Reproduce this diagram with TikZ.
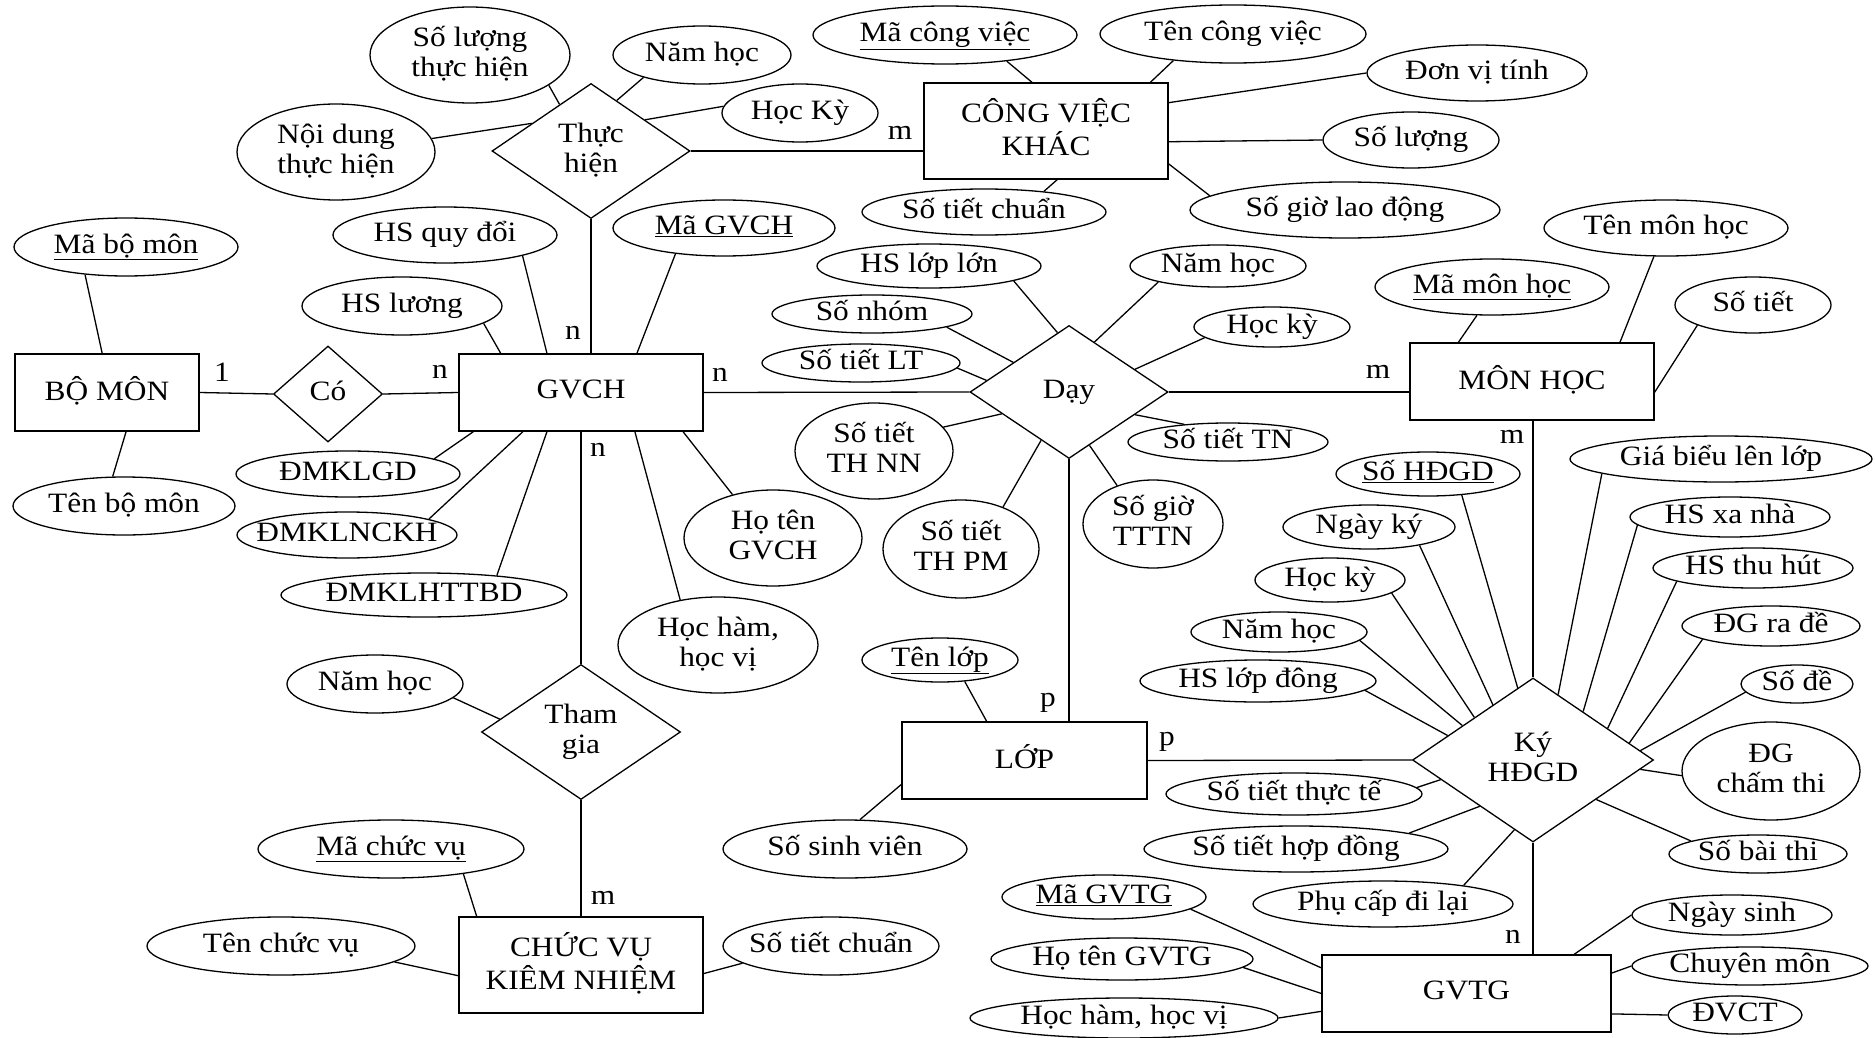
\documentclass[tikz,border=0pt]{standalone}
\usepackage{fontspec}
\setmainfont[FakeStretch=1.12]{Liberation Serif}
\usetikzlibrary{shapes.geometric}
% centred label whose size does not affect the node outline
\newcommand\nodetext[1]{\makebox[0pt]{\raisebox{-4pt}{\begin{tabular}{@{}c@{}}#1\end{tabular}}}}

\begin{document}
\begin{tikzpicture}[x=1pt,y=-1pt,
  font=\fontsize{28}{30}\selectfont,
  base/.style={draw, line width=1.3pt, inner sep=0pt, text height=.5em, text depth=0pt},
  attr/.style={base, ellipse},
  ent/.style={base, rectangle},
  rel/.style={base, diamond},
  link/.style={line width=1.3pt},
  card/.style={inner sep=0pt}]

\fill[white] (0,0) rectangle (1875,1038);
\useasboundingbox (0,0) rectangle (1875,1038);

% ---------- entities ----------
\node[ent, minimum width=184, minimum height=77] (bomon) at (107,392.5) {\nodetext{BỘ MÔN}};
\node[ent, minimum width=244, minimum height=77] (gvch) at (581,392.5) {\nodetext{GVCH}};
\node[ent, minimum width=244, minimum height=96] (cvk) at (1046,131) {\nodetext{CÔNG VIỆC\\KHÁC}};
\node[ent, minimum width=244, minimum height=77] (monhoc) at (1532,381.5) {\nodetext{MÔN HỌC}};
\node[ent, minimum width=245, minimum height=77] (lop) at (1024.5,760.5) {\nodetext{LỚP}};
\node[ent, minimum width=244, minimum height=96] (cvkn) at (581,965) {\nodetext{CHỨC VỤ\\KIÊM NHIỆM}};
\node[ent, minimum width=289, minimum height=77] (gvtg) at (1466.5,993.5) {\nodetext{GVTG}};

% ---------- relationships ----------
\node[rel, minimum width=109, minimum height=96] (co) at (328,394) {\nodetext{Có}};
\node[rel, minimum width=198, minimum height=135] (thuchien) at (591,151) {\nodetext{Thực\\hiện}};
\node[rel, minimum width=198, minimum height=133] (day) at (1069,392) {\nodetext{Dạy}};
\node[rel, minimum width=199, minimum height=135] (thamgia) at (581,732) {\nodetext{Tham\\gia}};
\node[rel, minimum width=241, minimum height=164] (ky) at (1533,760) {\nodetext{Ký\\HĐGD}};

% ---------- attributes ----------
\node[attr, minimum width=200, minimum height=96] (slth) at (470,55) {\nodetext{Số lượng\\thực hiện}};
\node[attr, minimum width=198, minimum height=96] (ndth) at (336,152) {\nodetext{Nội dung\\thực hiện}};
\node[attr, minimum width=178, minimum height=58] (nh1) at (702,55) {\nodetext{Năm học}};
\node[attr, minimum width=156, minimum height=58] (hk1) at (800,113) {\nodetext{Học Kỳ}};
\node[attr, minimum width=224, minimum height=58] (mabm) at (126,247) {\nodetext{\underline{Mã bộ môn}}};
\node[attr, minimum width=222, minimum height=58] (tenbm) at (124,506) {\nodetext{Tên bộ môn}};
\node[attr, minimum width=224, minimum height=56] (hsqd) at (445,235) {\nodetext{HS quy đổi}};
\node[attr, minimum width=200, minimum height=58] (hsl) at (402,306) {\nodetext{HS lương}};
\node[attr, minimum width=222, minimum height=56] (magvch) at (724,228) {\nodetext{\underline{Mã GVCH}}};
\node[attr, minimum width=224, minimum height=46] (dmklgd) at (348,474) {\nodetext{ĐMKLGD}};
\node[attr, minimum width=220, minimum height=46] (dmklnckh) at (347,535) {\nodetext{ĐMKLNCKH}};
\node[attr, minimum width=286, minimum height=44] (dmklhttbd) at (424,595) {\nodetext{ĐMKLHTTBD}};
\node[attr, minimum width=178, minimum height=96] (hoten) at (773,538) {\nodetext{Họ tên\\GVCH}};
\node[attr, minimum width=200, minimum height=96] (hochamvi) at (718,645) {\nodetext{Học hàm,\\học vị}};
\node[attr, minimum width=176, minimum height=58] (nh3) at (375,684) {\nodetext{Năm học}};
\node[attr, minimum width=266, minimum height=58] (machucvu) at (391,849) {\nodetext{\underline{Mã chức vụ}}};
\node[attr, minimum width=268, minimum height=58] (tenchucvu) at (281,946) {\nodetext{Tên chức vụ}};
\node[attr, minimum width=216, minimum height=58] (stc2) at (831,946) {\nodetext{Số tiết chuẩn}};

\node[attr, minimum width=264, minimum height=58] (macv) at (945,35) {\nodetext{\underline{Mã công việc}}};
\node[attr, minimum width=266, minimum height=58] (tencv) at (1233,34) {\nodetext{Tên công việc}};
\node[attr, minimum width=220, minimum height=56] (dvt) at (1477,73) {\nodetext{Đơn vị tính}};
\node[attr, minimum width=176, minimum height=56] (sl) at (1411,140) {\nodetext{Số lượng}};
\node[attr, minimum width=310, minimum height=56] (sgld) at (1345,210) {\nodetext{Số giờ lao động}};
\node[attr, minimum width=244, minimum height=46] (stc1) at (984,212) {\nodetext{Số tiết chuẩn}};

\node[attr, minimum width=224, minimum height=44] (hsll) at (929,266) {\nodetext{HS lớp lớn}};
\node[attr, minimum width=176, minimum height=42] (nh2) at (1218,266) {\nodetext{Năm học}};
\node[attr, minimum width=156, minimum height=40] (hk2) at (1272,327) {\nodetext{Học kỳ}};
\node[attr, minimum width=200, minimum height=38] (snhom) at (872,314) {\nodetext{Số nhóm}};
\node[attr, minimum width=198, minimum height=38] (stlt) at (861,363) {\nodetext{Số tiết LT}};
\node[attr, minimum width=158, minimum height=96] (stthnn) at (874,451) {\nodetext{Số tiết\\TH NN}};
\node[attr, minimum width=156, minimum height=98] (stthpm) at (961,549) {\nodetext{Số tiết\\TH PM}};
\node[attr, minimum width=140, minimum height=88] (sgtttn) at (1153,524) {\nodetext{Số giờ\\TTTN}};
\node[attr, minimum width=200, minimum height=38] (sttn) at (1228,442) {\nodetext{Số tiết TN}};

\node[attr, minimum width=234, minimum height=56] (mamh) at (1492,287) {\nodetext{\underline{Mã môn học}}};
\node[attr, minimum width=244, minimum height=56] (tenmh) at (1666,228) {\nodetext{Tên môn học}};
\node[attr, minimum width=156, minimum height=56] (sotiet) at (1753,305) {\nodetext{Số tiết}};

\node[attr, minimum width=184, minimum height=44] (sohdgd) at (1428,474) {\nodetext{\underline{Số HĐGD}}};
\node[attr, minimum width=172, minimum height=44] (ngayky) at (1369,527) {\nodetext{Ngày ký}};
\node[attr, minimum width=150, minimum height=44] (hk3) at (1330,580) {\nodetext{Học kỳ}};
\node[attr, minimum width=176, minimum height=40] (nh4) at (1279,632) {\nodetext{Năm học}};
\node[attr, minimum width=236, minimum height=42] (hslopdong) at (1258,681) {\nodetext{HS lớp đông}};
\node[attr, minimum width=302, minimum height=46] (gbll) at (1721,459) {\nodetext{Giá biểu lên lớp}};
\node[attr, minimum width=200, minimum height=40] (hsxanha) at (1730,517) {\nodetext{HS xa nhà}};
\node[attr, minimum width=200, minimum height=40] (hsthuhut) at (1753,568) {\nodetext{HS thu hút}};
\node[attr, minimum width=178, minimum height=40] (dgrade) at (1771,626) {\nodetext{ĐG ra đề}};
\node[attr, minimum width=112, minimum height=38] (sode) at (1797,684) {\nodetext{Số đề}};
\node[attr, minimum width=178, minimum height=98] (dgchamthi) at (1771,771) {\nodetext{ĐG\\chấm thi}};
\node[attr, minimum width=178, minimum height=38] (sobaithi) at (1758,854) {\nodetext{Số bài thi}};
\node[attr, minimum width=256, minimum height=42] (sttt) at (1294,794) {\nodetext{Số tiết thực tế}};
\node[attr, minimum width=304, minimum height=46] (sthd) at (1296,849) {\nodetext{Số tiết hợp đồng}};
\node[attr, minimum width=260, minimum height=46] (pcdl) at (1383,904) {\nodetext{Phụ cấp đi lại}};

\node[attr, minimum width=156, minimum height=44] (tenlop) at (940,660) {\nodetext{\underline{Tên lớp}}};
\node[attr, minimum width=244, minimum height=58] (sosv) at (845,849) {\nodetext{Số sinh viên}};

\node[attr, minimum width=204, minimum height=44] (magvtg) at (1104,897) {\nodetext{\underline{Mã GVTG}}};
\node[attr, minimum width=262, minimum height=42] (hotengvtg) at (1122,959) {\nodetext{Họ tên GVTG}};
\node[attr, minimum width=308, minimum height=40] (hochamvi2) at (1124,1018) {\nodetext{Học hàm, học vị}};
\node[attr, minimum width=200, minimum height=40] (ngaysinh) at (1732,915) {\nodetext{Ngày sinh}};
\node[attr, minimum width=236, minimum height=38] (chuyenmon) at (1750,966) {\nodetext{Chuyên môn}};
\node[attr, minimum width=134, minimum height=38] (dvct) at (1735,1015) {\nodetext{ĐVCT}};

% ---------- relationship links ----------
\draw[link] (bomon.east) -- (co.west);
\draw[link] (co.east) -- (gvch.west);
\draw[link] (thuchien.south) -- (thuchien.south |- gvch.north);
\draw[link] (thuchien.east) -- (thuchien.east -| cvk.west);
\draw[link] (gvch.east) -- (day.west);
\draw[link] (day.east) -- (day.east -| monhoc.west);
\draw[link] (day.south) -- (day.south |- lop.north);
\draw[link] (gvch.south) -- (thamgia.north);
\draw[link] (thamgia.south) -- (cvkn.north);
\draw[link] (ky.north |- monhoc.south) -- (ky.north);
\draw[link] (lop.east) -- (ky.west);
\draw[link] (ky.south) -- (ky.south |- gvtg.north);

% ---------- cardinalities ----------
\node[card] (c1) at (222,372) {1};
\node[card] (c2) at (440,372) {n};
\node[card] (c3) at (573,333) {n};
\node[card] (c4) at (900,133) {m};
\node[card] (c5) at (720,375) {n};
\node[card] (c6) at (598,450) {n};
\node[card] (c7) at (1378,372) {m};
\node[card] (c8) at (1512,437) {m};
\node[card] (c9) at (1048,703) {p};
\node[card] (c10) at (1167,742) {p};
\node[card] (c11) at (1513,937) {n};
\node[card] (c12) at (603,898) {m};

% ---------- attribute links ----------
\draw[link] (slth.-21) -- (thuchien.124);
\draw[link] (ndth.8) -- (thuchien.155);
\draw[link] (nh1.201) -- (thuchien.63);
\draw[link] (hk1.175) -- (thuchien.30);
\draw[link] (mabm.214) -- (bomon.97);
\draw[link] (tenbm.111) -- (bomon.-64);
\draw[link] (hsl.-12) -- (gvch.154);
\draw[link] (hsqd.-15) -- (gvch.131);
\draw[link] (magvch.208) -- (gvch.35);
\draw[link] (dmklgd.10) -- (gvch.200);
\draw[link] (dmklnckh.11) -- (gvch.214);
\draw[link] (dmklhttbd.15) -- (gvch.229);
\draw[link] (hochamvi.130) -- (gvch.-36);
\draw[link] (hoten.133) -- (gvch.-21);
\draw[link] (nh3.-10) -- (thamgia.171);
\draw[link] (machucvu.-19) -- (cvkn.155);
\draw[link] (tenchucvu.-8) -- (cvkn.185);
\draw[link] (stc2.191) -- (cvkn.-4);
\draw[link] (macv.-23) -- (cvk.106);
\draw[link] (tencv.204) -- (cvk.25);
\draw[link] (dvt.180) -- (cvk.13);
\draw[link] (sl.180) -- (cvk.-5);
\draw[link] (sgld.174) -- (cvk.-15);
\draw[link] (stc1.19) -- (cvk.-77);
\draw[link] (hsll.-10) -- (day.101);
\draw[link] (nh2.195) -- (day.63);
\draw[link] (hk2.189) -- (day.19);
\draw[link] (snhom.-10) -- (day.152);
\draw[link] (stlt.-3) -- (day.172);
\draw[link] (stthnn.19) -- (day.198);
\draw[link] (stthpm.45) -- (day.240);
\draw[link] (sgtttn.133) -- (day.-69);
\draw[link] (sttn.158) -- (day.-19);
\draw[link] (mamh.242) -- (monhoc.152);
\draw[link] (tenmh.247) -- (monhoc.24);
\draw[link] (sotiet.200) -- (monhoc.-5);
\draw[link] (sohdgd.-32) -- (ky.102);
\draw[link] (ngayky.-20) -- (ky.126);
\draw[link] (hk3.-12) -- (ky.144);
\draw[link] (nh4.-6) -- (ky.154);
\draw[link] (hslopdong.-5) -- (ky.164);
\draw[link] (gbll.187) -- (ky.69);
\draw[link] (hsxanha.185) -- (ky.44);
\draw[link] (hsthuhut.190) -- (ky.23);
\draw[link] (dgrade.191) -- (ky.10);
\draw[link] (sode.189) -- (ky.5);
\draw[link] (dgchamthi.183) -- (ky.-5);
\draw[link] (sobaithi.169) -- (ky.-32);
\draw[link] (sttt.3) -- (ky.192);
\draw[link] (sthd.8) -- (ky.221);
\draw[link] (pcdl.13) -- (ky.255);
\draw[link] (tenlop.-41) -- (lop.134);
\draw[link] (sosv.63) -- (lop.191);
\draw[link] (magvtg.-8) -- (gvtg.170);
\draw[link] (hotengvtg.-4) -- (gvtg.180);
\draw[link] (hochamvi2.0) -- (gvtg.187);
\draw[link] (ngaysinh.180) -- (gvtg.20);
\draw[link] (chuyenmon.180) -- (gvtg.8);
\draw[link] (dvct.180) -- (gvtg.-8);

\end{tikzpicture}
\end{document}
